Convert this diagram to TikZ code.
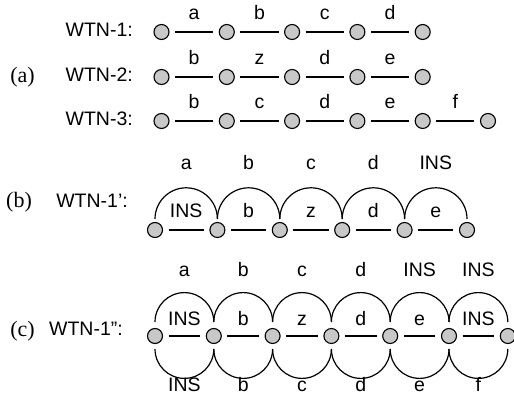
\documentclass[tikz,border=0pt]{standalone}
\usepackage{fontspec}
\setmainfont{Liberation Sans}
\newfontfamily\partfont{Liberation Serif}
\definecolor{vgray}{RGB}{200,200,200}
\begin{document}
\begin{tikzpicture}[x=1pt,y=-1pt,
  vtx/.style={circle,draw,fill=vgray,minimum size=15pt,inner sep=0pt,line width=1.1pt},
  link/.style={line width=1.1pt,shorten <=5.5pt,shorten >=5.5pt},
  arcline/.style={line width=1.2pt},
  lbl/.style={font=\fontsize{19.5}{20}\selectfont,inner sep=0pt,anchor=base},
  wtn/.style={font=\fontsize{19.5}{20}\selectfont,inner sep=0pt,anchor=base east},
  part/.style={font=\partfont\fontsize{22}{22}\selectfont,inner sep=0pt,anchor=base}]
\useasboundingbox (0,0) rectangle (514,395);

% ---------- (a) ----------
\node[part] (pa) at (22.5,83) {(a)};
\node[wtn] (w1) at (133,37) {WTN-1:};
\node[wtn] (w2) at (133,82) {WTN-2:};
\node[wtn] (w3) at (133,126) {WTN-3:};

\foreach \i in {0,...,4} \node[vtx] (r1n\i) at (161.5+65.3*\i,32) {};
\foreach \i in {0,...,4} \node[vtx] (r2n\i) at (161.5+65.3*\i,77) {};
\foreach \i in {0,...,5} \node[vtx] (r3n\i) at (161.5+65.3*\i,121) {};

\foreach \t [count=\k from 0] in {a,b,c,d} {
  \pgfmathtruncatemacro{\j}{\k+1}
  \draw[link] (r1n\k) -- (r1n\j);
  \node[lbl] (r1l\k) at (194.15+65.3*\k,19.5) {\t};
}
\foreach \t [count=\k from 0] in {b,z,d,e} {
  \pgfmathtruncatemacro{\j}{\k+1}
  \draw[link] (r2n\k) -- (r2n\j);
  \node[lbl] (r2l\k) at (194.15+65.3*\k,64.5) {\t};
}
\foreach \t [count=\k from 0] in {b,c,d,e,f} {
  \pgfmathtruncatemacro{\j}{\k+1}
  \draw[link] (r3n\k) -- (r3n\j);
  \node[lbl] (r3l\k) at (194.15+65.3*\k,108.5) {\t};
}

% ---------- (b) ----------
\node[part] (pb) at (19,208) {(b)};
\node[wtn] (wb) at (128,208) {WTN-1’:};
\foreach \i in {0,...,5} \node[vtx] (bn\i) at (155+62.4*\i,230) {};
\foreach \t/\u [count=\k from 0] in {a/INS,b/b,c/z,d/d,INS/e} {
  \pgfmathtruncatemacro{\j}{\k+1}
  \draw[link] (bn\k) -- (bn\j);
  \draw[arcline] ([yshift=11pt]bn\k.center) arc[start angle=180,end angle=360,radius=31.2];
  \node[lbl] (bt\k) at (186.2+62.4*\k,170) {\t};
  \node[lbl] (bi\k) at (186.2+62.4*\k,218) {\u};
}

% ---------- (c) ----------
\node[part] (pc) at (22.5,336) {(c)};
\node[wtn] (wc) at (123,335) {WTN-1”:};
\foreach \i in {0,...,6} \node[vtx] (cn\i) at (155+58.8*\i,336) {};
\foreach \t/\u/\v [count=\k from 0] in {a/INS/INS,b/b/b,c/z/c,d/d/d,INS/e/e,INS/INS/f} {
  \pgfmathtruncatemacro{\j}{\k+1}
  \draw[link] (cn\k) -- (cn\j);
  \draw[arcline] ([yshift=14pt]cn\k.center) arc[start angle=180,end angle=360,radius=29.4];
  \draw[arcline] ([yshift=-13pt]cn\k.center) arc[start angle=180,end angle=0,radius=29.4];
  \node[lbl] (ct\k) at (184.4+58.8*\k,277) {\t};
  \node[lbl] (ci\k) at (184.4+58.8*\k,325) {\u};
  \node[lbl] (cb\k) at (184.4+58.8*\k,391) {\v};
}
\end{tikzpicture}
\end{document}
